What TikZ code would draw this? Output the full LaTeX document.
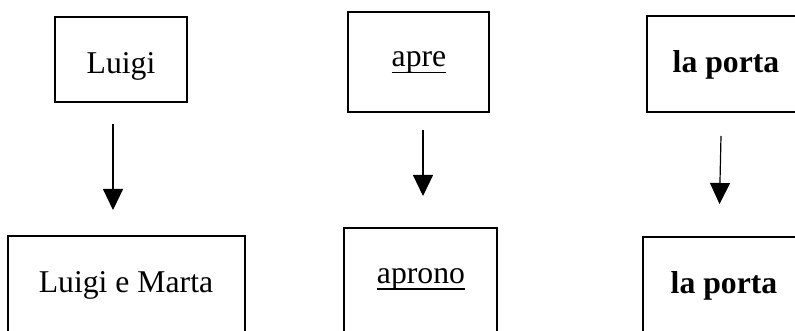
\documentclass[tikz,border=0pt]{standalone}
\usepackage{fontspec}
\setmainfont{Liberation Serif}
\usetikzlibrary{arrows.meta}
\newcommand\myul[1]{\leavevmode\setbox0\hbox{#1}\rlap{\rule[-0.21em]{\wd0}{0.05em}}\box0}
\begin{document}
\begin{tikzpicture}[x=1pt,y=-1pt,
  box/.style={draw, line width=1.5pt, inner sep=0pt, outer sep=0pt, anchor=north west},
  word/.style={anchor=base, inner sep=0pt, font=\fontsize{31.7}{38}\selectfont},
  arr/.style={line width=1.2pt, -{Triangle[width=20pt,length=21pt]}}]
\useasboundingbox (0,0) rectangle (795,331);
\clip (0,0) rectangle (795,331);
% boxes
\node[box, minimum width=132pt, minimum height=85pt] (b1) at (55,17) {};
\node[box, minimum width=237pt, minimum height=97pt] (b2) at (8,236) {};
\node[box, minimum width=141pt, minimum height=100pt] (b3) at (348,12) {};
\node[box, minimum width=153pt, minimum height=110pt] (b4) at (344,228) {};
\node[box, minimum width=180pt, minimum height=96pt] (b5) at (647,16) {};
\node[box, minimum width=180pt, minimum height=110pt] (b6) at (643,237) {};
% texts
\node[word] (t1) at (121,74) {Luigi};
\node[word] (t2) at (126,292.7) {Luigi e Marta};
\node[word] (t3) at (419,66.7) {\myul{apre}};
\node[word] (t4) at (421,283.3) {\myul{aprono}};
\node[word] (t5) at (726,72.7) {\textbf{la porta}};
\node[word] (t6) at (724,293.3) {\textbf{la porta}};
% arrows
\coordinate (a1s) at (113,124);
\coordinate (a1e) at (113,210);
\coordinate (a2s) at (423,130);
\coordinate (a2e) at (423,196);
\coordinate (a3s) at (721,136);
\coordinate (a3e) at (719.5,204);
\draw[arr] (a1s) -- (a1e);
\draw[arr] (a2s) -- (a2e);
\draw[arr] (a3s) -- (a3e);
\end{tikzpicture}
\end{document}
